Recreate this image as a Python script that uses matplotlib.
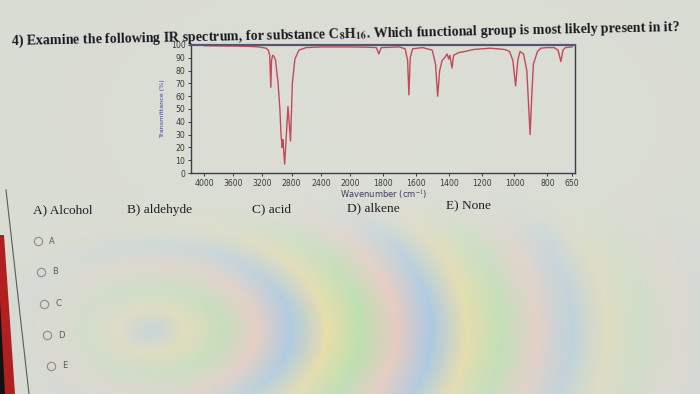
import numpy as np
import matplotlib
matplotlib.use("Agg")
import matplotlib.pyplot as plt
from matplotlib.patches import Polygon
from matplotlib.lines import Line2D

# ---------------- data ----------------
wavenumber = [4000, 3800, 3600, 3400, 3250, 3150, 3120, 3100, 3085, 3075, 3060, 3040,
              3020, 3005, 2985, 2960, 2945, 2930, 2920, 2895, 2850, 2815, 2790, 2755,
              2700, 2600, 2400, 2200, 2000, 1900, 1840, 1825, 1810, 1700, 1665, 1650,
              1642, 1634, 1620, 1560, 1500, 1480, 1467, 1455, 1440, 1425, 1410, 1400,
              1393, 1380, 1370, 1340, 1300, 1250, 1200, 1150, 1100, 1060, 1030, 1010,
              993, 980, 966, 945, 925, 905, 895, 885, 860, 840, 800, 760, 735, 718,
              705, 690, 650]
transmittance = [99.5, 99.3, 99.2, 99.0, 98.5, 97.5, 96, 92, 67, 88, 92, 91,
                 88, 80, 70, 49, 30, 20, 26, 7, 52, 25, 70, 89,
                 96, 98, 98.5, 98.5, 98.5, 98.3, 98, 93, 98, 98.5, 97, 88,
                 61, 90, 97, 98, 96, 85, 60, 80, 88, 90, 93, 89,
                 92, 82, 92, 94, 95, 96.5, 97, 97.5, 97, 96.5, 95, 88,
                 68, 88, 95, 93, 80, 30, 60, 85, 95, 97.5, 98, 98, 96, 87,
                 96, 98, 98.5]

x_ticks = [4000, 3600, 3200, 2800, 2400, 2000, 1800, 1600, 1400, 1200, 1000, 800, 650]
y_ticks = [0, 10, 20, 30, 40, 50, 60, 70, 80, 90, 100]

title = ("4) Examine the following IR spectrum, for substance "
         "C${}_{\\mathbf{8}}$H${}_{\\mathbf{16}}$. Which functional group is most likely present in it?")
answers = ["A) Alcohol", "B) aldehyde", "C) acid", "D) alkene", "E) None"]
radio_labels = ["A", "B", "C", "D", "E"]
x_label = "Wavenumber (cm$^{-1}$)"
y_label = "Transmittance (%)"

# ---------------- figure ----------------
W, H = 700, 394
plt.rcParams["mathtext.fontset"] = "stix"
fig = plt.figure(figsize=(7.0, 3.94), dpi=100)
base = np.array([217, 220, 211]) / 255.0
fig.patch.set_facecolor(base)


def fx(x):
    return x / W


def fy(y):
    return 1 - y / H


# photographed-screen background with soft moire bands (decoration only)
bg = fig.add_axes([0, 0, 1, 1], zorder=-10)
yy, xx = np.mgrid[0:H, 0:W].astype(float)
r = np.sqrt(((xx - 150) / 1.6) ** 2 + ((yy - 330) / 1.0) ** 2)
phase = r / 22.0
pal = np.array([[150, 192, 232], [236, 222, 150], [176, 224, 160], [236, 196, 186]]) / 255.0
idx = np.floor(phase).astype(int) % 4
frac = phase - np.floor(phase)
c0 = pal[idx]
c1 = pal[(idx + 1) % 4]
pattern = c0 * (1 - frac[..., None]) + c1 * frac[..., None]
env = np.exp(-(((xx - 380) / 230) ** 2) - (((yy - 330) / 110) ** 2)) * 0.75
env *= np.clip((yy - 185) / 60, 0, 1)
img = base[None, None, :] * (1 - env[..., None]) + pattern * env[..., None]
bright = np.exp(-(((xx - 380) / 300) ** 2) - (((yy - 120) / 160) ** 2)) * 0.25
img = img * (1 - bright[..., None]) + np.array([0.9, 0.9, 0.87]) * bright[..., None]
bg.imshow(np.clip(img, 0, 1), aspect="auto", extent=[0, 1, 0, 1], origin="upper")
bg.set_axis_off()

# axis scale: compressed above 2000 cm-1
K = 0.888


def fwd(w):
    w = np.asarray(w, float)
    return np.where(w > 2000, 10 + (w - 2000) / 400 * K, w / 200)


def inv(t):
    t = np.asarray(t, float)
    return np.where(t > 10, 2000 + (t - 10) * 400 / K, t * 200)


ax = fig.add_axes([fx(191), fy(173), (575 - 191) / W, (173 - 45) / H])
ax.set_facecolor("none")
ax.set_xscale("function", functions=(fwd, inv))
ax.plot(wavenumber, transmittance, color="#c24a58", lw=1.0)
ax.set_xlim(4178, 632)
ax.set_ylim(0, 100)
ax.set_xticks(x_ticks)
ax.set_xticklabels([str(v) for v in x_ticks])
ax.set_yticks(y_ticks)
ax.set_yticklabels([str(v) for v in y_ticks])
ax.minorticks_off()
ax.tick_params(axis="both", labelsize=5.6, colors="#3a3a3a", length=2.5, width=0.7, pad=1.5)
for side in ["left", "right", "bottom"]:
    ax.spines[side].set_color("#3c3c4c")
    ax.spines[side].set_linewidth(1.0)
ax.spines["top"].set_color("#55557a")
ax.spines["top"].set_linewidth(1.6)
ax.set_xlabel(x_label, fontsize=6.0, color="#3a3f60", labelpad=1)
ax.set_ylabel(y_label, fontsize=4.6, color="#3048a0", labelpad=4)

# title
fig.text(fx(346), fy(34), title, fontsize=10.1, fontweight="bold", family="Liberation Serif",
         color="#1a1a22", ha="center", va="center", rotation=1.2, rotation_mode="anchor")

# answer choices
ans_pos = [(63, 210), (160, 210), (272, 209), (373, 208), (469, 206)]
for txt, (x, y) in zip(answers, ans_pos):
    fig.text(fx(x), fy(y), txt, fontsize=9.6, family="Liberation Serif",
             color="#1e1e26", ha="center", va="center")

# radio buttons
radio_pos = [(38, 241), (41, 272), (44, 304), (47.5, 335), (51, 366)]
for lab, (x, y) in zip(radio_labels, radio_pos):
    fig.add_artist(Line2D([fx(x)], [fy(y)], transform=fig.transFigure, marker="o",
                          markersize=6.0, mfc="none", mec="#8c8c8c", mew=0.8))
    fig.text(fx(x + 14), fy(y), lab, fontsize=6.0, color="#5a5a5a", ha="center", va="center")

# monitor edge decorations
fig.add_artist(Line2D([fx(6), fx(29)], [fy(190), fy(394)], transform=fig.transFigure,
                      color="#5a5a5a", lw=0.8))
fig.add_artist(Polygon([(fx(0), fy(235)), (fx(4), fy(235)), (fx(15), fy(394)), (fx(0), fy(394))],
                       closed=True, transform=fig.transFigure, facecolor="#b02020", edgecolor="none"))
fig.add_artist(Polygon([(fx(0), fy(300)), (fx(5), fy(394)), (fx(0), fy(394))],
                       closed=True, transform=fig.transFigure, facecolor="#111111", edgecolor="none"))

fig.savefig("out.png", dpi=100, facecolor=fig.get_facecolor())
